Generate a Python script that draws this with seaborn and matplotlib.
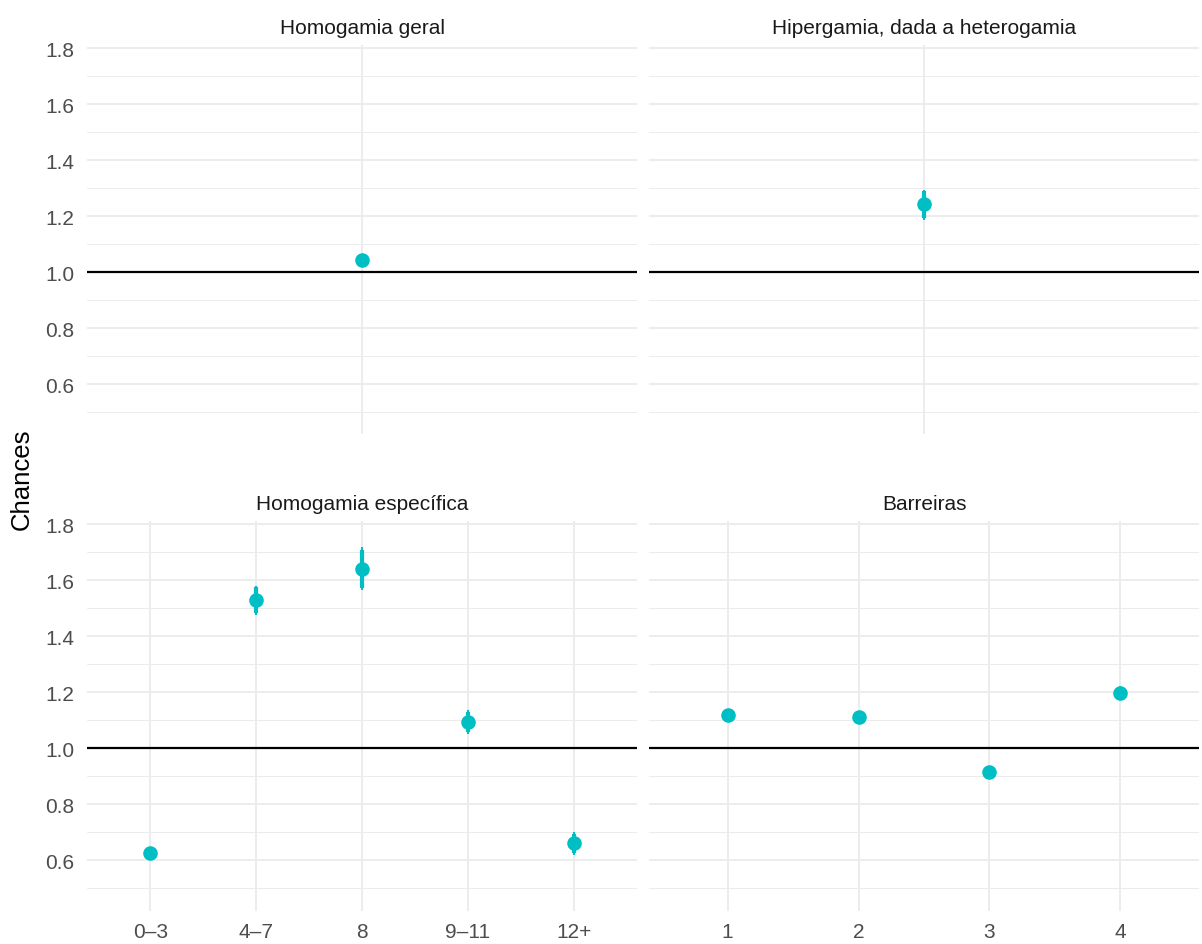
import matplotlib
matplotlib.use("Agg")
import matplotlib.pyplot as plt
import seaborn as sns
import pandas as pd
import numpy as np

# ---------------- data ----------------
titles = ["Homogamia geral", "Hipergamia, dada a heterogamia",
          "Homogamia específica", "Barreiras"]

geral_cats = ["geral"]
geral_est = [1.043]
geral_lo_outer = [1.033]
geral_hi_outer = [1.053]
geral_lo_inner = [1.035]
geral_hi_inner = [1.051]

hiper_cats = ["hiper"]
hiper_est = [1.243]
hiper_lo_outer = [1.188]
hiper_hi_outer = [1.295]
hiper_lo_inner = [1.193]
hiper_hi_inner = [1.289]

spec_cats = ["0–3", "4–7", "8", "9–11", "12+"]
spec_est = [0.627, 1.529, 1.640, 1.095, 0.662]
spec_lo_outer = [0.612, 1.475, 1.567, 1.052, 0.620]
spec_hi_outer = [0.642, 1.582, 1.718, 1.137, 0.700]
spec_lo_inner = [0.614, 1.483, 1.573, 1.058, 0.626]
spec_hi_inner = [0.640, 1.575, 1.708, 1.131, 0.694]

barr_cats = ["1", "2", "3", "4"]
barr_est = [1.120, 1.113, 0.915, 1.198]
barr_lo_outer = [1.108, 1.101, 0.905, 1.172]
barr_hi_outer = [1.132, 1.125, 0.925, 1.224]
barr_lo_inner = [1.110, 1.103, 0.907, 1.176]
barr_hi_inner = [1.130, 1.123, 0.923, 1.220]

y_major = [0.6, 0.8, 1.0, 1.2, 1.4, 1.6, 1.8]
y_minor = [0.5, 0.7, 0.9, 1.1, 1.3, 1.5, 1.7]
ref_value = 1.0
y_label = "Chances"

# ---------------- style ----------------
TEAL = "#00BFC4"
GRID = "#EBEBEB"
sns.set_theme(style="white")
plt.rcParams["font.family"] = ["Liberation Sans", "DejaVu Sans"]

W, H = 1202, 945
fig = plt.figure(figsize=(W / 100, H / 100), dpi=100)

def rect(x0, y0, x1, y1):
    return [x0 / W, 1 - y1 / H, (x1 - x0) / W, (y1 - y0) / H]

panels = [
    (titles[0], geral_cats, geral_est, geral_lo_outer, geral_hi_outer, geral_lo_inner, geral_hi_inner,
     False, True, rect(87, 46.2, 637, 435.4)),
    (titles[1], hiper_cats, hiper_est, hiper_lo_outer, hiper_hi_outer, hiper_lo_inner, hiper_hi_inner,
     False, False, rect(649, 46.2, 1199, 435.4)),
    (titles[2], spec_cats, spec_est, spec_lo_outer, spec_hi_outer, spec_lo_inner, spec_hi_inner,
     True, True, rect(87, 522.4, 637, 911.6)),
    (titles[3], barr_cats, barr_est, barr_lo_outer, barr_hi_outer, barr_lo_inner, barr_hi_inner,
     True, False, rect(649, 522.4, 1199, 911.6)),
]

for title, cats, est, lo_o, hi_o, lo_i, hi_i, show_x, show_y, r in panels:
    ax = fig.add_axes(r)
    n = len(cats)
    df = pd.DataFrame({"cat": cats, "est": est})
    sns.pointplot(data=df, x="cat", y="est", order=cats, linestyle="none",
                  errorbar=None, color=TEAL, markersize=10.5, markeredgewidth=0,
                  ax=ax, zorder=5)
    pos = np.arange(n)
    ax.vlines(pos, lo_o, hi_o, color=TEAL, lw=1.5, zorder=3, capstyle="butt")
    ax.vlines(pos, lo_i, hi_i, color=TEAL, lw=3.0, zorder=3, capstyle="butt")
    ax.axhline(ref_value, color="black", lw=1.6, zorder=2)

    ax.set_xlim(-0.6, n - 0.4)
    ax.set_ylim(0.421, 1.811)
    ax.set_yticks(y_major)
    ax.set_yticks(y_minor, minor=True)
    ax.set_yticklabels([f"{v:.1f}" for v in y_major])
    ax.set_axisbelow(True)
    ax.yaxis.grid(True, which="major", color=GRID, lw=1.3, zorder=0)
    ax.yaxis.grid(True, which="minor", color=GRID, lw=0.7, zorder=0)
    ax.xaxis.grid(True, which="major", color=GRID, lw=1.3, zorder=0)
    for s in ax.spines.values():
        s.set_visible(False)
    ax.tick_params(axis="both", which="both", length=0, labelsize=15,
                   labelcolor="#4D4D4D")
    ax.tick_params(axis="y", pad=9)
    ax.tick_params(axis="x", pad=8)
    ax.set_xlabel("")
    ax.set_ylabel("")
    if not show_x:
        ax.set_xticks(pos)
        ax.set_xticklabels([""] * n)
    if not show_y:
        ax.tick_params(axis="y", labelleft=False)
    ax.set_title(title, fontsize=15, color="#1A1A1A", pad=9)

fig.text(22 / W, 1 - 479 / H, y_label, rotation=90, ha="center", va="center",
         fontsize=18.5, color="black")

fig.savefig("out.png", dpi=100)
